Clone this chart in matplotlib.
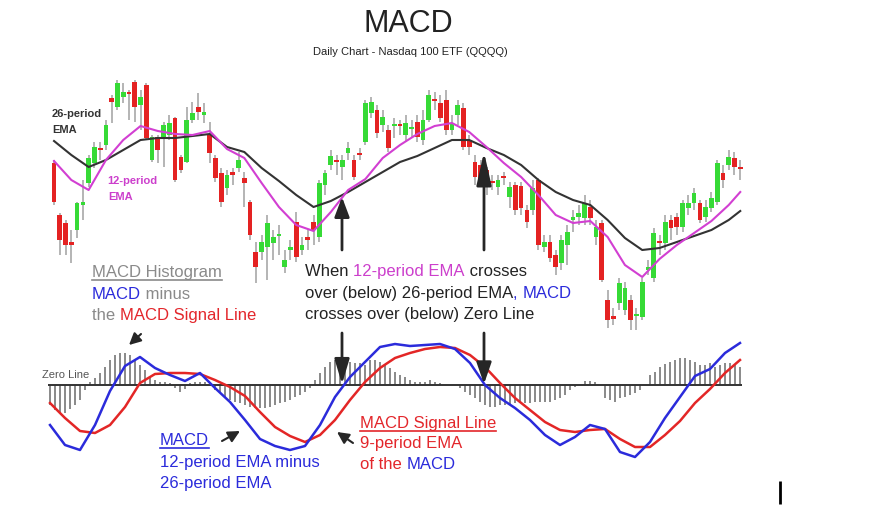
import numpy as np
import matplotlib
matplotlib.use("Agg")
import matplotlib.pyplot as plt

plt.rcParams['font.family'] = ['Liberation Sans', 'DejaVu Sans']

# daily candles (price scale), one per trading day
opens = [237, 185, 177, 158, 170, 195, 217, 237, 252, 255,
         302, 293, 303, 308, 318, 295, 315, 240, 263, 262,
         265, 282, 243, 238, 280, 293, 285, 265, 242, 227,
         212, 228, 232, 222, 198, 148, 148, 153, 157, 164,
         133, 150, 178, 150, 163, 178, 163, 215, 235, 240,
         233, 247, 240, 247, 258, 287, 290, 275, 270, 274,
         276, 265, 271, 278, 260, 280, 301, 297, 300, 270,
         285, 292, 260, 238, 235, 230, 219, 213, 224, 203,
         215, 214, 190, 190, 220, 153, 158, 145, 137, 155,
         180, 183, 182, 193, 163, 177, 100, 83, 97, 90,
         100, 84, 83, 130, 122, 159, 157, 180, 183, 173,
         192, 197, 197, 183, 192, 198, 227, 235, 242, 233]
closes = [198, 160, 155, 155, 197, 198, 242, 253, 250, 275,
          298, 317, 308, 306, 293, 303, 262, 263, 250, 275,
          277, 220, 230, 280, 287, 288, 288, 247, 222, 198,
          225, 225, 240, 217, 165, 133, 158, 177, 163, 166,
          140, 153, 143, 155, 160, 170, 217, 227, 244, 238,
          240, 252, 223, 245, 297, 298, 267, 283, 252, 276,
          274, 277, 273, 263, 280, 305, 299, 282, 270, 277,
          295, 253, 253, 223, 220, 213, 217, 220, 222, 213,
          190, 192, 178, 212, 155, 158, 142, 133, 160, 168,
          183, 187, 197, 182, 173, 120, 80, 82, 117, 112,
          80, 86, 118, 133, 167, 157, 178, 172, 173, 197,
          197, 207, 180, 193, 202, 237, 220, 243, 233, 231]
highs = [240, 187, 180, 170, 198, 220, 245, 258, 258, 280,
         305, 320, 317, 310, 320, 310, 317, 265, 265, 278,
         285, 283, 245, 293, 298, 307, 297, 278, 245, 232,
         230, 232, 248, 228, 200, 158, 165, 185, 170, 175,
         150, 160, 188, 163, 170, 185, 220, 230, 250, 245,
         245, 258, 245, 252, 300, 303, 295, 290, 275, 282,
         280, 285, 280, 285, 290, 310, 308, 305, 310, 285,
         300, 297, 265, 245, 240, 233, 225, 225, 228, 218,
         218, 218, 195, 220, 222, 165, 165, 150, 165, 175,
         190, 195, 205, 200, 180, 180, 110, 92, 122, 118,
         105, 92, 122, 140, 172, 165, 185, 185, 187, 200,
         205, 212, 200, 200, 208, 240, 235, 250, 248, 240]
lows = [195, 145, 145, 137, 162, 180, 213, 232, 240, 250,
        277, 290, 297, 280, 278, 270, 260, 238, 237, 233,
        260, 218, 227, 237, 277, 280, 277, 237, 218, 193,
        205, 215, 228, 193, 160, 117, 140, 120, 140, 145,
        127, 140, 138, 145, 150, 155, 158, 205, 230, 225,
        220, 240, 220, 240, 255, 282, 262, 268, 248, 262,
        265, 258, 262, 258, 255, 278, 290, 278, 265, 265,
        275, 250, 245, 215, 215, 205, 210, 205, 215, 192,
        185, 185, 172, 185, 150, 148, 138, 125, 130, 135,
        168, 175, 175, 175, 155, 118, 72, 75, 90, 85,
        70, 70, 80, 125, 118, 145, 150, 160, 165, 168,
        185, 190, 177, 178, 188, 195, 212, 230, 225, 220]

# moving averages, read every 3rd day
ema_days = list(range(0, 120, 3)) + [119]
ema12 = [239, 220, 210, 240, 260, 274, 269, 266, 265, 269,
         251, 242, 217, 193, 175, 169, 188, 210, 221, 242,
         255, 266, 274, 277, 268, 253, 237, 223, 205, 185,
         177, 179, 163, 135, 123, 141, 155, 167, 179, 195, 208]
ema26 = [259, 245, 233, 240, 250, 260, 262, 262, 264, 266,
         253, 248, 232, 219, 205, 193, 199, 208, 218, 228,
         238, 244, 252, 260, 260, 252, 245, 235, 220, 208,
         200, 195, 180, 162, 150, 152, 158, 164, 170, 180, 189]

# MACD panel: histogram bars, MACD and signal lines (every 3rd bar)
hist = [-0.20, -0.25, -0.28, -0.28, -0.24, -0.20, -0.15, -0.05,
        0.03, 0.07, 0.12, 0.18, 0.25, 0.30, 0.32, 0.32, 0.30, 0.25, 0.20, 0.15,
        0.08, 0.05, 0.03, 0.03, 0.02, -0.03, -0.07, -0.04, 0.02, 0.03, 0.03, 0.03, 0.00,
        -0.05, -0.08, -0.12, -0.15, -0.17, -0.18, -0.20, -0.22, -0.23, -0.23,
        -0.23, -0.22, -0.20, -0.18, -0.17, -0.15, -0.12, -0.10, -0.07, -0.03,
        0.05, 0.12, 0.18, 0.23, 0.25, 0.23, 0.22, 0.23, 0.22, 0.22, 0.20, 0.25, 0.25, 0.23, 0.20,
        0.17, 0.13, 0.10, 0.08, 0.05, 0.03, 0.03, 0.03, 0.05, 0.03, 0.02, 0.00, 0.00, 0.00, -0.03,
        -0.07, -0.10, -0.13, -0.17, -0.20, -0.22, -0.22, -0.20, -0.20, -0.20, -0.18, -0.18,
        -0.18, -0.18, -0.17, -0.17, -0.17, -0.17, -0.15, -0.13, -0.10, -0.05, -0.02,
        0.00, 0.04, 0.04, 0.03, 0.00,
        -0.13, -0.15, -0.17, -0.13, -0.12, -0.10, -0.08, -0.05, 0.00,
        0.10, 0.13, 0.18, 0.21, 0.23, 0.25, 0.27, 0.27, 0.25, 0.23, 0.20, 0.20, 0.22,
        0.18, 0.20, 0.22, 0.22, 0.20, 0.18]
line_days = list(range(0, 139, 3))
macd = [-0.40, -0.60, -0.65, -0.40, -0.06, 0.19, 0.28, 0.17, 0.10, 0.04,
        0.12, -0.03, -0.17, -0.35, -0.54, -0.61, -0.65, -0.61, -0.40, -0.12,
        0.08, 0.23, 0.38, 0.41, 0.39, 0.40, 0.41, 0.36, 0.22, 0.00,
        -0.13, -0.23, -0.35, -0.50, -0.60, -0.52, -0.40, -0.44, -0.67, -0.72,
        -0.57, -0.33, -0.12, 0.09, 0.16, 0.32, 0.42]
signal = [-0.18, -0.33, -0.46, -0.48, -0.40, -0.22, 0.02, 0.11, 0.12, 0.12,
          0.11, 0.05, -0.02, -0.11, -0.27, -0.42, -0.51, -0.57, -0.50, -0.35,
          -0.15, 0.03, 0.17, 0.27, 0.32, 0.36, 0.38, 0.37, 0.30, 0.18,
          0.02, -0.13, -0.25, -0.37, -0.45, -0.47, -0.45, -0.44, -0.54, -0.62,
          -0.62, -0.50, -0.36, -0.18, -0.04, 0.12, 0.25]

GRAY = '#8a8a8a'
BLUE = '#2b2bdb'
RED = '#e3262b'
MAG = '#cc3fcc'
DARK = '#222222'

fig = plt.figure(figsize=(8.7, 5.17), dpi=100)
fig.patch.set_facecolor('white')

# price panel
axp = fig.add_axes([0, 0, 1, 1])
axp.set_xlim(-9.37, 141.5)
axp.set_ylim(-117, 400)
axp.axis('off')

o = np.array(opens, dtype=float)
c = np.array(closes, dtype=float)
days = np.arange(len(o))
up = c >= o
body = np.maximum(np.abs(c - o), 2.5)
bottom = np.minimum(o, c) - (body - np.abs(c - o)) / 2
axp.vlines(days, lows, highs, color='#a0a0a0', lw=1.1, zorder=1)
axp.bar(days[up], body[up], bottom=bottom[up], width=0.82, color='#36da36', zorder=2)
axp.bar(days[~up], body[~up], bottom=bottom[~up], width=0.82, color='#e42222', zorder=2)
axp.plot(ema_days, ema26, color='#333333', lw=1.5, zorder=3)
axp.plot(ema_days, ema12, color='#d23fd2', lw=1.5, zorder=4)

# MACD panel
axm = fig.add_axes([0, 0, 1, 1])
axm.set_xlim(-10, 164)
axm.set_ylim(-1.32, 3.85)
axm.axis('off')
axm.patch.set_alpha(0)
axm.bar(np.arange(len(hist)), hist, width=0.5, color='#8c8c8c', zorder=1)
axm.hlines(0, -0.4, len(hist) - 0.6, color='#333333', lw=1.4, zorder=2)
axm.plot(line_days, signal, color='#e32626', lw=1.8, zorder=3)
axm.plot(line_days, macd, color=BLUE, lw=1.8, zorder=4)

# annotation layer in pixel units
axt = fig.add_axes([0, 0, 1, 1])
axt.set_xlim(0, 870)
axt.set_ylim(517, 0)
axt.axis('off')
axt.patch.set_alpha(0)


def rich(x, y, parts, size=12):
    t = axt.text(x, y, parts[0][0], color=parts[0][1], fontsize=size, va='baseline')
    out = [t]
    for s, col in parts[1:]:
        t = axt.annotate(s, xy=(1, 0), xycoords=t, color=col, fontsize=size,
                         va='bottom', ha='left')
        out.append(t)
    return out


def arrow(x0, y0, x1, y1, lw=1.8, hl=1.2, hw=0.45):
    axt.annotate('', xy=(x1, y1), xytext=(x0, y0),
                 arrowprops=dict(arrowstyle=f'-|>,head_length={hl},head_width={hw}',
                                 color='#262626', lw=lw, shrinkA=0, shrinkB=0,
                                 mutation_scale=10))


axt.text(408, 32, 'MACD', fontsize=22, color=DARK, ha='center', va='baseline')
axt.text(410, 55, 'Daily Chart - Nasdaq 100 ETF (QQQQ)', fontsize=8, color=DARK,
         ha='center', va='baseline')

axt.text(52, 117, '26-period', fontsize=8, fontweight='bold', color='#333333', va='baseline')
axt.text(52, 133, 'EMA', fontsize=8, fontweight='bold', color='#333333', va='baseline')
axt.text(107, 184, '12-period', fontsize=8, fontweight='bold', color=MAG, va='baseline')
axt.text(108, 200, 'EMA', fontsize=8, fontweight='bold', color=MAG, va='baseline')

under = []
under += rich(92, 277, [('MACD Histogram', GRAY)])[:1]
rich(92, 299, [('MACD', BLUE), (' minus', GRAY)])
rich(92, 320, [('the ', GRAY), ('MACD Signal Line', RED)])

rich(305, 276, [('When ', DARK), ('12-period EMA', MAG), (' crosses', DARK)])
rich(305, 298, [('over (below) 26-period EMA', DARK), (', ', BLUE), ('MACD', BLUE)])
rich(305, 319, [('crosses over (below) Zero Line', DARK)])

axt.text(42, 378, 'Zero Line', fontsize=8, color='#555555', va='baseline')

under += rich(160, 445, [('MACD', BLUE)])[:1]
rich(160, 467, [('12-period EMA minus', BLUE)])
rich(160, 488, [('26-period EMA', BLUE)])

under += rich(360, 428, [('MACD Signal Line', RED)])[:1]
rich(360, 448, [('9-period EMA', RED)])
rich(360, 469, [('of the ', RED), ('MACD', BLUE)])

# crossing arrows
arrow(342, 250, 342, 197, lw=2, hl=1.2, hw=0.45)
arrow(484, 250, 484, 152, lw=2, hl=2.0, hw=0.45)
arrow(342, 333, 342, 384, lw=2, hl=1.5, hw=0.45)
arrow(484, 333, 484, 384, lw=2, hl=1.3, hw=0.45)

# pointer arrows
arrow(141, 334, 129, 345, lw=1.5, hl=0.7, hw=0.35)
arrow(222, 441, 240, 431, lw=1.5, hl=0.7, hw=0.35)
arrow(353, 443, 337, 432, lw=1.5, hl=0.7, hw=0.35)

axt.vlines(780, 481, 504, color='black', lw=2)

# underline titled labels
fig.canvas.draw()
inv = axt.transData.inverted()
for t in under:
    bb = t.get_window_extent()
    (x0, y0), (x1, _) = inv.transform([(bb.x0, bb.y0), (bb.x1, bb.y1)])
    axt.plot([x0, x1], [y0 - 0.5, y0 - 0.5], color=t.get_color(), lw=1.2)

fig.savefig('out.png', dpi=100)
